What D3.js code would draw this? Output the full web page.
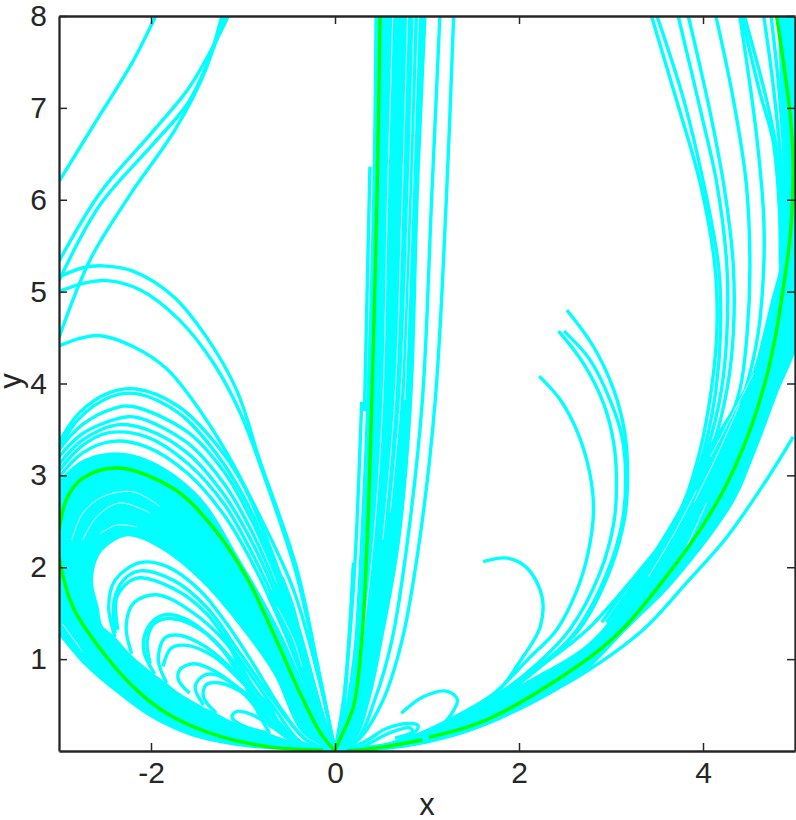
<!DOCTYPE html>
<html>
<head>
<meta charset="utf-8">
<script src="https://cdn.jsdelivr.net/npm/d3@7"></script>
<style>
  html, body { margin: 0; background: #fff; overflow: hidden; }
  svg { display: block; }
  text { font-family: "Liberation Sans", Arial, sans-serif; fill: #262626; }
</style>
</head>
<body>
<div id="chart"></div>
<script>
const xTicks = [-2, 0, 2, 4];
const yTicks = [1, 2, 3, 4, 5, 6, 7, 8];

// all curves are [x, y] points
const leftOuter = [
  [[-3,5.16],[-2.74,5.26],[-2.52,5.28],[-2.19,5.22],[-1.76,4.95],[-1.4,4.51],[-1.07,3.93],[-0.82,3.17],[-0.42,2.0],[-0.2,0.99],[0,0]],
  [[-3,5.0],[-2.74,5.09],[-2.48,5.12],[-2.12,5.02],[-1.69,4.69],[-1.32,4.22],[-1.03,3.68],[-0.78,3.02],[-0.42,1.93],[-0.2,0.95],[0,0]],
  [[-3,4.41],[-2.74,4.5],[-2.55,4.52],[-2.19,4.4],[-1.83,4.16],[-1.47,3.71],[-1.18,3.25],[-0.85,2.62],[-0.45,1.75],[-0.13,0.6],[0,0]]
];
const leftUpper = [
  [[-3,3.36],[-2.78,3.68],[-2.45,3.9],[-2.16,3.94],[-1.7,3.75],[-1.3,3.35],[-1,2.9],[-0.7,2.2],[-0.4,1.35],[-0.15,0.45],[0,0]],
  [[-3,3.3],[-2.78,3.62],[-2.45,3.85],[-2.16,3.89],[-1.7,3.68],[-1.3,3.25],[-1,2.78],[-0.7,2.12],[-0.4,1.3],[-0.15,0.43],[0,0]],
  [[-3,3.28],[-2.75,3.55],[-2.4,3.73],[-2.2,3.75],[-1.6,3.47],[-1.2,3.03],[-0.9,2.5],[-0.62,1.85],[-0.35,1.07],[-0.13,0.34],[0,0]],
  [[-3,3.2],[-2.75,3.45],[-2.35,3.62],[-2.15,3.63],[-1.6,3.35],[-1.2,2.9],[-0.9,2.38],[-0.62,1.74],[-0.35,1.0],[-0.13,0.32],[0,0]],
  [[-3,3.12],[-2.75,3.38],[-2.37,3.55],[-2.05,3.5],[-1.6,3.24],[-1.2,2.78],[-0.9,2.27],[-0.62,1.65],[-0.35,0.94],[-0.13,0.3],[0,0]],
  [[-3,3.05],[-2.75,3.32],[-2.48,3.46],[-2.05,3.42],[-1.6,3.13],[-1.2,2.68],[-0.9,2.15],[-0.62,1.55],[-0.35,0.88],[-0.13,0.28],[0,0]],
  [[-3,2.98],[-2.75,3.24],[-2.42,3.37],[-2.05,3.31],[-1.6,3.02],[-1.2,2.56],[-0.9,2.05],[-0.62,1.46],[-0.35,0.8],[-0.13,0.25],[0,0]]
];
const leftLoops = [
  [[-2.39,1.24],[-2.46,1.57],[-2.39,1.86],[-2.12,2.05],[-1.83,2.01],[-1.47,1.75],[-1.18,1.39],[-0.89,0.95],[-0.6,0.48],[-0.31,0.12],[0,0]],
  [[-2.39,1.28],[-2.4,1.64],[-2.3,1.86],[-2.12,1.96],[-1.76,1.86],[-1.4,1.57],[-1.03,1.06],[-0.67,0.55],[-0.31,0.12],[0,0]],
  [[-2.36,1.32],[-2.37,1.68],[-2.16,1.88],[-1.76,1.77],[-1.4,1.5],[-1.03,0.99],[-0.67,0.48],[-0.35,0.08],[0,0]],
  [[-2.21,1.06],[-2.27,1.35],[-2.19,1.61],[-1.94,1.7],[-1.58,1.53],[-1.18,1.17],[-0.89,0.7],[-0.6,0.3],[-0.35,0.05],[0,0]],
  [[-1.96,0.84],[-2.08,1.1],[-2.03,1.35],[-1.87,1.48],[-1.61,1.43],[-1.25,1.13],[-1,0.77],[-0.71,0.34],[-0.35,0.05],[0,0]],
  [[-2.01,0.95],[-2.04,1.21],[-1.96,1.39],[-1.76,1.44],[-1.4,1.28],[-1.03,0.88],[-0.7,0.42]],
  [[-1.83,0.74],[-1.92,0.99],[-1.85,1.23],[-1.69,1.26],[-1.4,1.13],[-1.07,0.84],[-0.81,0.52],[-0.56,0.23],[-0.31,0.03],[0,0]],
  [[-1.87,0.92],[-1.78,1.12],[-1.61,1.15],[-1.32,1.03],[-1.03,0.77],[-0.74,0.45]],
  [[-1.58,0.63],[-1.7,0.77],[-1.69,0.88],[-1.54,0.95],[-1.29,0.86],[-1,0.63],[-0.74,0.34],[-0.45,0.1],[0,0]],
  [[-1.43,0.5],[-1.52,0.7],[-1.43,0.82],[-1.29,0.83],[-1,0.65],[-0.71,0.37]],
  [[-1.29,0.41],[-1.43,0.59],[-1.4,0.72],[-1.25,0.74],[-0.96,0.61],[-0.67,0.37],[-0.43,0.12],[0,0]],
  [[-0.71,0.19],[-1.03,0.29],[-1.12,0.37],[-1.07,0.43],[-0.89,0.39],[-0.71,0.28],[-0.45,0.1]],
  [[-1.2,1.32],[-1.12,1.1],[-1.03,0.88],[-0.92,0.59],[-0.81,0.37],[-0.71,0.19]],
  [[-0.96,0.74],[-0.71,0.48],[-0.6,0.26]]
];
const topLeftLines = [
  [[-3,6.2],[-2.6,6.85],[-2.2,7.5],[-1.95,8]],
  [[-3,5.33],[-2.55,6.08],[-2,6.72],[-1.6,7.2],[-1.35,7.62],[-1.16,8]],
  [[-3,5.12],[-2.55,5.95],[-2,6.58],[-1.6,7.05],[-1.36,7.55],[-1.2,8]],
  [[-3,4.5],[-2.66,5.35],[-2.23,6.05],[-1.74,6.76],[-1.42,7.38],[-1.23,8]]
];
const centerLines = [
  [[0,0],[0.25,0.12],[0.52,0.55],[0.73,1.21],[0.92,2.3],[1.09,3.82],[1.21,6],[1.29,8]],
  [[0,0],[0.24,0.12],[0.43,0.55],[0.62,1.21],[0.79,2.3],[0.95,3.82],[1.05,6],[1.14,8]],
  [[0,0],[0.06,0.2],[0.13,0.85]],
  [[0,0],[0.1,0.6],[0.2,2.05]],
  [[0,0],[0.1,0.6],[0.18,1.5],[0.23,2.3],[0.29,3.8]],
  [[0.32,3.7],[0.38,6.36]]
];
const rightLines = [
  [[3.44,8],[3.71,7.09],[3.97,6.18],[4.13,5.27],[4.15,4.55],[4.09,3.93],[3.97,3.28],[3.79,2.7],[3.53,2.22],[3.2,1.83],[2.74,1.32],[2.2,0.9],[1.6,0.5],[1,0.2],[0.4,0.03],[0,0]],
  [[3.5,8],[3.79,7.09],[4,6.21],[4.17,5.27],[4.19,4.55],[4.14,3.93],[4.02,3.31],[3.84,2.75],[3.6,2.33],[3.26,1.9],[2.9,1.4]],
  [[3.73,8],[3.99,6.9],[4.15,6.18],[4.26,5.27],[4.26,4.55],[4.2,3.93],[4.05,3.3],[3.82,2.75],[3.5,2.2],[2.95,1.4]],
  [[3.84,8],[4.08,6.94],[4.24,6.07],[4.33,5.27],[4.33,4.55],[4.26,3.93],[4.1,3.3],[3.86,2.75],[3.5,2.15],[3,1.45]],
  [[4.14,8],[4.33,7.09],[4.47,6.18],[4.51,5.27],[4.48,4.55],[4.4,3.93],[4.2,3.38],[3.9,2.8],[3.5,2.1]],
  [[4.4,8],[4.58,6.72],[4.66,5.81],[4.66,5.27],[4.6,4.55],[4.46,3.93],[4.26,3.4],[3.9,2.77]],
  [[4.45,8],[4.69,7.09],[4.8,6.54],[4.85,5.81],[4.85,5.27],[4.76,4.91],[4.58,4.18],[4.47,3.82],[4.18,3.35]],
  [[4.42,8],[4.62,7.16],[4.76,6.65],[4.83,5.9],[4.84,5.3]],
  [[4.66,8],[4.76,7.27],[4.85,6.36],[4.88,5.6]],
  [[4.74,8],[4.82,7.27],[4.88,6.5]],
  // the separate line under the band
  [[0,0],[0.4,0.015],[1,0.1],[1.65,0.3],[2.2,0.57],[2.66,0.82],[3.35,1.32],[3.82,1.83],[4.26,2.33],[4.69,2.95],[4.98,3.42]]
];
const arcs = [
  [[2.52,4.8],[2.81,4.4],[3.03,3.93],[3.15,3.46],[3.18,2.99],[3.15,2.55],[2.99,1.97],[2.65,1.32],[2.25,0.95],[1.8,0.62],[1.3,0.35],[0.8,0.12],[0,0]],
  [[2.49,4.57],[2.77,4.26],[2.99,3.82],[3.12,3.42],[3.16,2.95],[3.12,2.48],[2.97,1.97],[2.63,1.32],[2.25,0.93],[1.8,0.6],[1.3,0.33],[0.8,0.11],[0,0]],
  [[2.43,4.57],[2.7,4.22],[2.92,3.78],[3.03,3.35],[3.06,2.91],[3.03,2.48],[2.88,1.94],[2.55,1.32],[2.2,0.95],[1.75,0.6],[1.3,0.35],[0.8,0.12],[0,0]],
  [[2.22,4.08],[2.45,3.82],[2.64,3.46],[2.77,3.02],[2.81,2.62],[2.75,2.15],[2.63,1.75],[2.41,1.32],[2.1,1],[1.72,0.62],[1.3,0.37],[0.9,0.18],[0.45,0.04],[0,0]],
  [[1.61,2.06],[1.87,2.1],[2.09,1.99],[2.25,1.68],[2.23,1.35],[2.04,1.02],[1.72,0.59],[1.3,0.32],[0.92,0.13],[0.4,0.02],[0,0]]
];
const smallLoops = [
  [[0.72,0.41],[0.96,0.59],[1.22,0.65],[1.33,0.56],[1.27,0.41],[1.07,0.21],[0.78,0.09],[0.27,0.01],[0,0]],
  [[0,0],[0.3,0.09],[0.57,0.25],[0.82,0.3],[0.9,0.28],[0.89,0.23],[0.71,0.12],[0.38,0.03],[0,0]],
  [[0,0],[0.3,0.05],[0.6,0.2],[0.82,0.25],[0.84,0.21],[0.65,0.14]]
];

// solid areas where the lines sit too close together to read one by one: each is two edges
const massUpperTop = [[-3.05,2.9],[-2.74,3.17],[-2.36,3.25],[-1.98,3.15],[-1.47,2.77],[-1.03,2.08],[-0.62,1.35],[-0.26,0.55],[0,0]];
const massUpperBottom = [[0,0],[-0.35,0.19],[-0.67,0.84],[-1.03,1.35],[-1.4,1.79],[-1.76,2.11],[-2.12,2.31],[-2.3,2.33],[-2.55,2.15],[-2.63,1.86],[-2.57,1.57],[-2.52,1.35],[-2.39,1.24],[-3.05,1.5]];
const massLowerBottom = [[-3.05,1.32],[-2.74,0.95],[-2.37,0.63],[-2.01,0.37],[-1.58,0.17],[-1.03,0.05],[-0.49,0.01],[0,0]];
const massLowerTop = [[0,0],[-0.45,0.1],[-0.71,0.19],[-1.11,0.32],[-1.29,0.41],[-1.43,0.48],[-1.69,0.63],[-1.83,0.74],[-1.97,0.84],[-2.23,1.06],[-2.39,1.24],[-2.52,1.35],[-3.05,1.8]];
const massFanLeft = [[-0.74,1.68],[-0.45,1.03],[-0.236,0.48],[0,0]];
const massFanRight = [[0,0],[-0.145,0.48],[-0.31,1.06],[-0.45,1.61],[-0.56,1.9]];
const massCenterLeft = [[0,0],[0.08,0.3],[0.17,0.85],[0.21,1.21],[0.26,2.05],[0.34,3.82],[0.41,6.36],[0.43,8.3]];
const massCenterRight = [[1.01,8.3],[0.91,6],[0.84,3.82],[0.71,2.3],[0.52,1.21],[0.38,0.55],[0.22,0.12],[0,0]];
const massRightUpper = [[0,0],[0.35,0.03],[1.03,0.2],[1.47,0.41],[2.01,0.72],[2.66,1.1],[2.9,1.32],[3.2,1.72],[3.41,2.0],[3.57,2.3],[3.79,2.7],[3.97,3.17],[4.18,3.5],[4.4,3.86],[4.55,4.15],[4.7,4.66],[4.8,5.02],[4.84,5.5],[4.86,6.5],[4.84,7.2],[4.8,8.3]];
const massRightLower = [[5.1,8.3],[5.1,4.7],[4.8,3.86],[4.55,3.2],[4.33,2.7],[3.68,1.83],[3.17,1.32],[2.66,0.82],[1.65,0.28],[0.92,0.07],[0.13,0],[0,0]];
const massPairs = [
  [massUpperTop, massUpperBottom],
  [massLowerBottom, massLowerTop],
  [massFanLeft, massFanRight],
  [massCenterLeft, massCenterRight],
  [massRightUpper, massRightLower]
];

// thin white gaps left open inside the solid areas
const whiteGaps = [
  [[-2.86,2.3],[-2.74,2.59],[-2.52,2.77],[-2.19,2.82],[-1.9,2.66]],
  [[-2.74,2.3],[-2.59,2.55],[-2.34,2.7],[-2.01,2.59]],
  [[-2.55,2.37],[-2.37,2.46],[-2.16,2.44]],
  [[-2.96,1.38],[-2.75,1.09]],
  [[-0.63,1.57],[-0.45,1.21],[-0.36,0.92]],
  [[0.63,8.05],[0.57,6],[0.52,3.82],[0.42,2.3],[0.3,1.21]],
  [[0.79,8.05],[0.73,6],[0.65,3.82],[0.52,2.3]],
  [[0.86,8.05],[0.8,6],[0.71,3.82],[0.6,2.6]],
  [[0.91,8.05],[0.84,6],[0.76,3.82]],
  [[3.41,1.9],[3.71,2.41],[3.93,2.84]],
  [[3.79,2.15],[4.04,2.7]],
  [[3.9,2.7],[4.18,3.28],[4.4,3.78]],
  [[4.08,3.2],[4.33,3.68],[4.55,4.11]]
];

const greenUpper = [[-3,2.4],[-2.91,2.76],[-2.74,2.97],[-2.36,3.08],[-1.76,2.86],[-1.33,2.44],[-0.96,1.89],[-0.67,1.28],[-0.38,0.63],[-0.16,0.2],[0,0]];
const greenLower = [[-3,2.11],[-2.85,1.57],[-2.48,1.02],[-2.12,0.63],[-1.76,0.37],[-1.22,0.15],[-0.67,0.04],[-0.13,0.01]];
const greenCenter = [[0,0],[0.05,0.12],[0.2,0.48],[0.29,1.2],[0.35,2.3],[0.4,3.82],[0.456,6],[0.49,8]];
const greenRightA = [[0.13,0],[0.5,0.04],[0.95,0.12]];
const greenRightB = [[1.02,0.15],[1.65,0.34],[2.66,0.94],[3.12,1.32],[3.57,1.86],[3.97,2.41],[4.26,2.91],[4.51,3.49],[4.69,4.07],[4.8,4.58],[4.87,5.02],[4.95,5.63],[4.98,6.36],[4.95,6.9],[4.8,8]];

const w = 796;
const h = 820;
const [x0, y0, x1, y1] = [59, 16, 795, 751];
const ink = '#262626';

const svg = d3.select('#chart').append('svg')
  .attr('width', w)
  .attr('height', h);

const xScale = d3.scaleLinear().domain([-3, 5]).range([x0, x1]);
const yScale = d3.scaleLinear().domain([0, 8]).range([y1, y0]);

svg.append('clipPath').attr('id', 'plot').append('rect')
  .attr('x', x0).attr('y', y0).attr('width', x1 - x0).attr('height', y1 - y0);

const path = d3.line()
  .x(d => xScale(d[0]))
  .y(d => yScale(d[1]))
  .curve(d3.curveCatmullRom.alpha(0.5));

const plot = svg.append('g').attr('clip-path', 'url(#plot)');

plot.selectAll('path.mass')
  .data(massPairs)
  .enter()
  .append('path')
  .attr('class', 'mass')
  .attr('d', d => path(d[0]) + 'L' + path(d[1]).slice(1) + 'Z')
  .attr('fill', '#00ffff');

const cyanCurves = [].concat(leftOuter, leftUpper, leftLoops, topLeftLines, centerLines, rightLines, arcs, smallLoops);
plot.selectAll('path.curve')
  .data(cyanCurves)
  .enter()
  .append('path')
  .attr('class', 'curve')
  .attr('d', path)
  .attr('fill', 'none')
  .attr('stroke', '#00ffff')
  .attr('stroke-width', 3.4);

plot.selectAll('path.gap')
  .data(whiteGaps)
  .enter()
  .append('path')
  .attr('class', 'gap')
  .attr('d', path)
  .attr('fill', 'none')
  .attr('stroke', '#fff')
  .attr('stroke-width', 0.9);

plot.selectAll('path.green')
  .data([greenLower, greenUpper, greenCenter, greenRightA, greenRightB])
  .enter()
  .append('path')
  .attr('class', 'green')
  .attr('d', path)
  .attr('fill', 'none')
  .attr('stroke', '#00ff00')
  .attr('stroke-width', 3.4);

// box with inward ticks on all four sides
const bottom = d3.axisBottom(xScale).tickValues(xTicks).tickFormat(d => String(d)).tickSizeInner(-8).tickSizeOuter(0).tickPadding(11);
const top_ = d3.axisTop(xScale).tickValues(xTicks).tickSizeInner(-8).tickSizeOuter(0).tickFormat('');
const left = d3.axisLeft(yScale).tickValues(yTicks).tickFormat(d => String(d)).tickSizeInner(-8).tickSizeOuter(0).tickPadding(12);
const right = d3.axisRight(yScale).tickValues(yTicks).tickSizeInner(-8).tickSizeOuter(0).tickFormat('');

svg.append('g').attr('transform', `translate(0, ${y1})`).call(bottom);
svg.append('g').attr('transform', `translate(0, ${y0})`).call(top_);
svg.append('g').attr('transform', `translate(${x0}, 0)`).call(left);
svg.append('g').attr('transform', `translate(${x1}, 0)`).call(right);

svg.selectAll('.domain').attr('stroke', ink).attr('stroke-width', 2.3);
svg.selectAll('.tick line').attr('stroke', ink).attr('stroke-width', 1.5);
svg.selectAll('.tick text')
  .style('font-family', '"Liberation Sans", Arial, sans-serif')
  .style('font-size', '30px')
  .attr('fill', ink);

svg.append('text')
  .attr('x', 427)
  .attr('y', 815)
  .attr('text-anchor', 'middle')
  .style('font-size', '31px')
  .text('x');

svg.append('text')
  .attr('transform', 'translate(21, 381) rotate(-90)')
  .attr('text-anchor', 'middle')
  .style('font-size', '31px')
  .text('y');
</script>
</body>
</html>
